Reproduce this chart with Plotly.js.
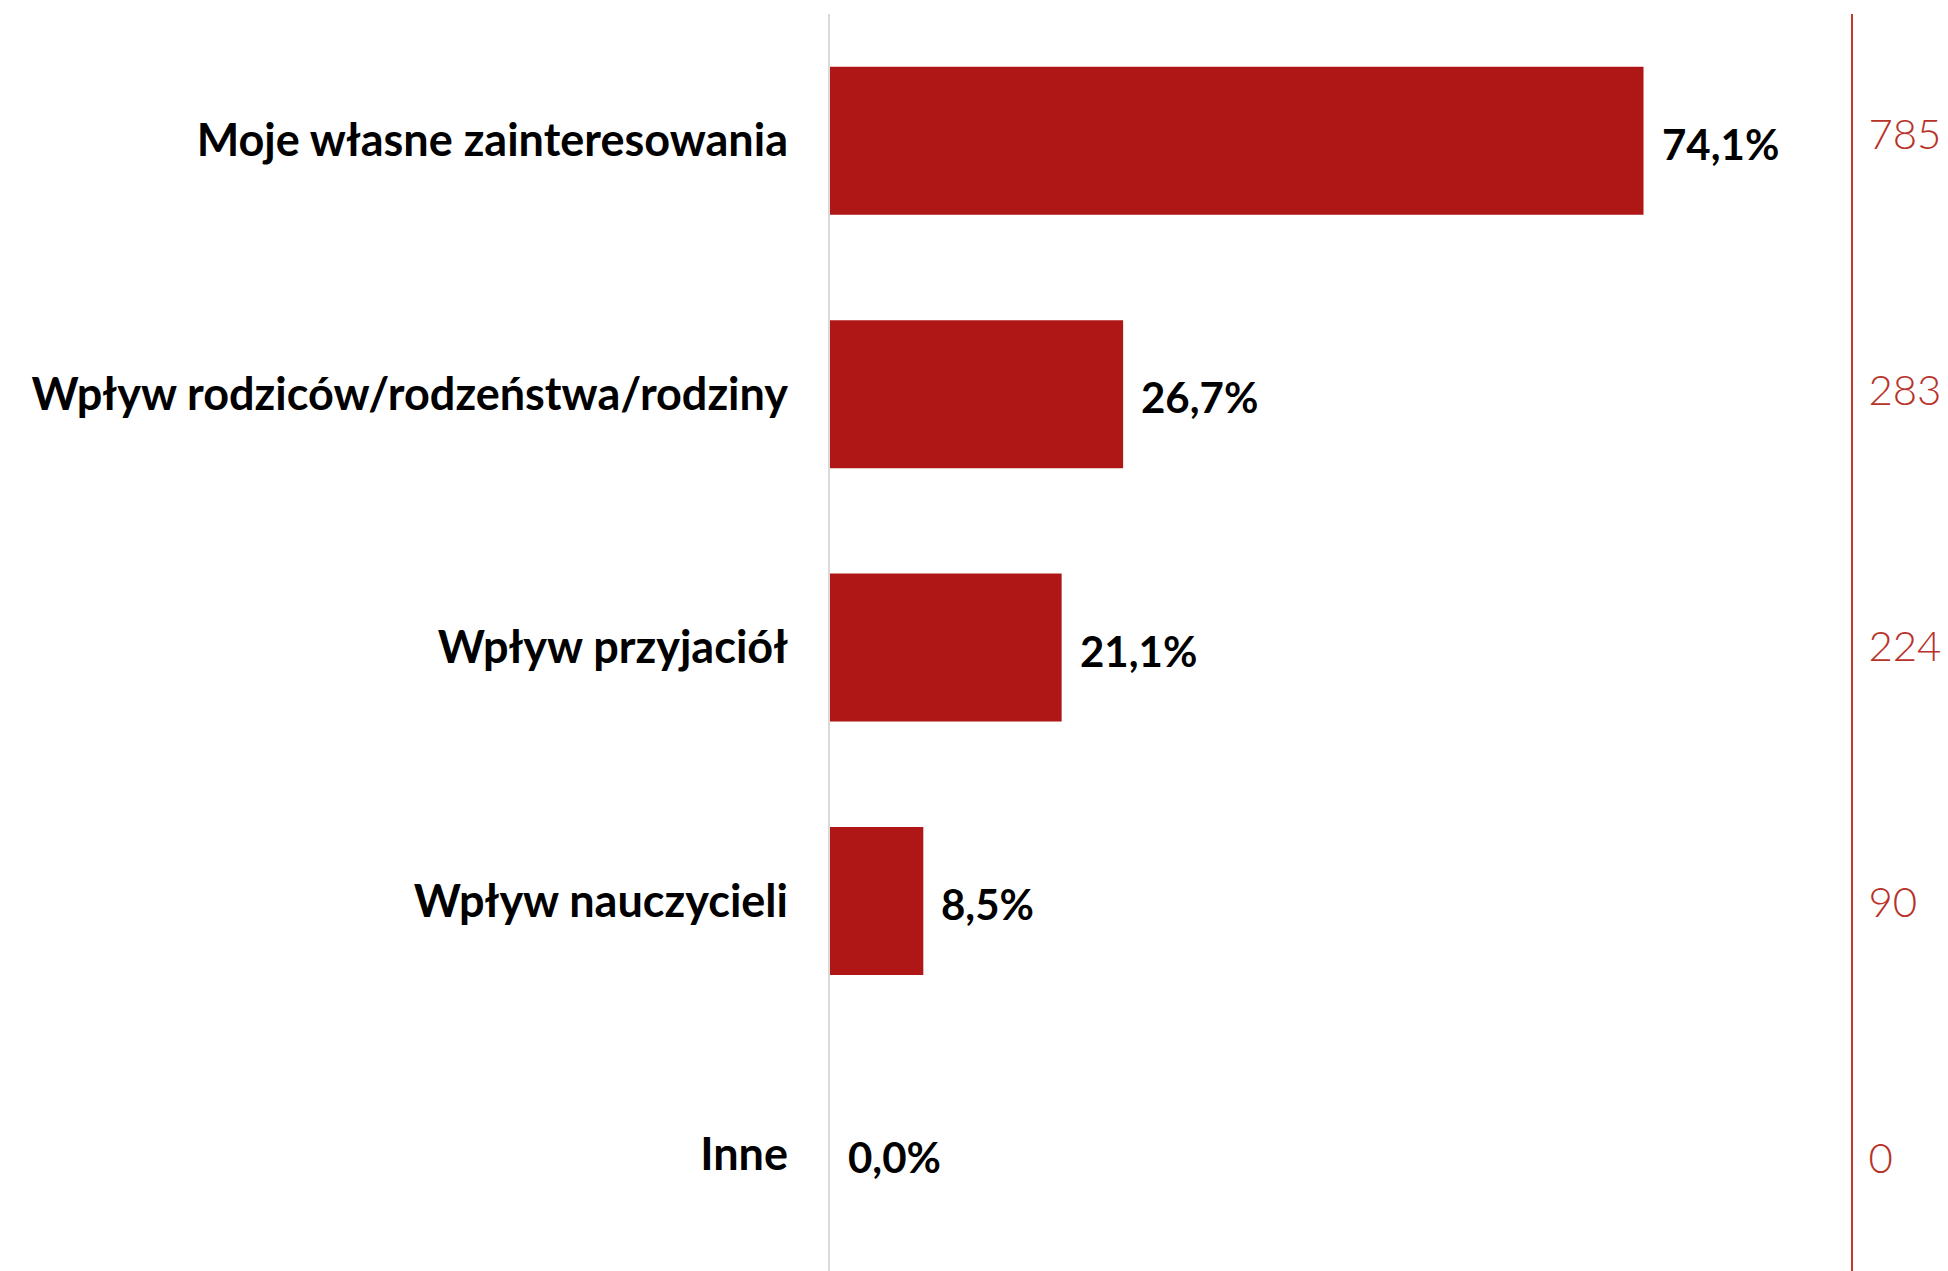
<!DOCTYPE html>
<html>
<head>
<meta charset="utf-8">
<script src="https://cdn.plot.ly/plotly-3.0.1.min.js"></script>
<style>html,body{margin:0;padding:0;background:#fff;}#chart{width:1948px;height:1271px;}</style>
</head>
<body>
<div id="chart"></div>
<script>
const categories = [
  "Moje własne zainteresowania",
  "Wpływ rodziców/rodzeństwa/rodziny",
  "Wpływ przyjaciół",
  "Wpływ nauczycieli",
  "Inne"
];
const percentValues = [74.1, 26.7, 21.1, 8.5, 0.0];
const counts = [785, 283, 224, 90, 0];

const pctLabels = percentValues.map(v => v.toFixed(1).replace('.', ',') + '%');
const idx = categories.map((c, i) => i);

const barColor = '#AF1616';
const countColor = '#B8322A';
const fontFam = 'Lato, "Open Sans", sans-serif';

const traces = [
  {
    type: 'bar',
    orientation: 'h',
    x: percentValues,
    y: idx,
    marker: {color: barColor, line: {width: 0}},
    hoverinfo: 'skip',
    xaxis: 'x', yaxis: 'y'
  },
  {
    type: 'scatter',
    mode: 'markers',
    x: percentValues,
    y: idx,
    marker: {opacity: 0, size: 1},
    hoverinfo: 'skip',
    showlegend: false,
    xaxis: 'x', yaxis: 'y2'
  }
];

const annotations = percentValues.map((v, i) => ({
  x: v, y: idx[i], xref: 'x', yref: 'y',
  text: pctLabels[i],
  showarrow: false,
  xanchor: 'left', yanchor: 'middle',
  xshift: 16, yshift: -3,
  font: {family: fontFam, size: 42, color: '#000', weight: 700}
}));

const layout = {
  width: 1948, height: 1271,
  margin: {l: 830, r: 97, t: 14, b: 0, pad: 0},
  paper_bgcolor: '#fff', plot_bgcolor: '#fff',
  showlegend: false,
  bargap: 0.416,
  xaxis: {
    range: [0, 93], showgrid: false, zeroline: false, showline: false,
    showticklabels: false, ticks: '', fixedrange: true
  },
  yaxis: {
    range: [4.46, -0.5], tickmode: 'array', tickvals: idx, ticktext: categories,
    showgrid: false, zeroline: false, showline: true, linecolor: '#d9d9d9', linewidth: 2,
    ticks: '', ticklabelstandoff: 31,
    tickfont: {family: fontFam, size: 45, color: '#000', weight: 700}
  },
  yaxis2: {
    overlaying: 'y', side: 'right', anchor: 'x',
    range: [4.441, -0.469], tickmode: 'array', tickvals: idx, ticktext: counts.map(String),
    showgrid: false, zeroline: false, showline: true, linecolor: '#C0392B', linewidth: 2,
    ticks: '', ticklabelstandoff: 7,
    tickfont: {family: fontFam, size: 42, color: countColor, weight: 300}
  },
  annotations: annotations
};

Plotly.newPlot('chart', traces, layout, {displayModeBar: false, staticPlot: true});
</script>
</body>
</html>
